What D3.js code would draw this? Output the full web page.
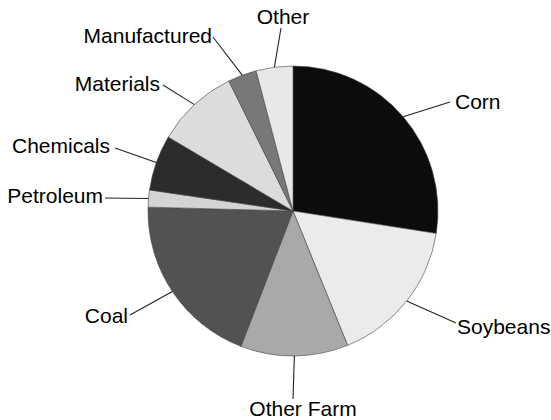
<!DOCTYPE html>
<html>
<head>
<meta charset="utf-8">
<script src="https://cdn.jsdelivr.net/npm/d3@7"></script>
<style>
  body { margin: 0; background: #fff; }
  text { font-family: "Liberation Sans", Arial, Helvetica, sans-serif; font-size: 21px; fill: #000; }
</style>
</head>
<body>
<svg id="chart" width="551" height="420"></svg>
<script>
// shares in percent, clockwise from 12 o'clock
const categories = ["Corn", "Soybeans", "Other Farm", "Coal", "Petroleum", "Chemicals", "Materials", "Manufactured", "Other"];
const shares = [27.5, 16.4, 12.0, 19.6, 1.9, 6.2, 9.2, 3.2, 4.1];
const fills = ["#0c0c0c", "#ebebeb", "#a9a9a9", "#525252", "#d4d4d4", "#2c2c2c", "#dcdcdc", "#787878", "#e8e8e8"];

// label placement: end of leader line and text anchor, relative to the pie centre
const labelPos = [
  { end: [157, -109], text: [162, -102], anchor: "start" },
  { end: [163, 112], text: [164, 123], anchor: "start" },
  { end: [0, 188], text: [10, 205], anchor: "middle" },
  { end: [-163, 104], text: [-165, 112], anchor: "end" },
  { end: [-188, -13], text: [-190, -8], anchor: "end" },
  { end: [-178, -63], text: [-183, -58], anchor: "end" },
  { end: [-130, -126], text: [-133, -120], anchor: "end" },
  { end: [-80, -174], text: [-81, -168], anchor: "end" },
  { end: [-12, -183], text: [-10, -187], anchor: "middle" }
];

const cx = 293, cy = 211, r = 145;

const svg = d3.select("#chart");
const g = svg.append("g").attr("transform", `translate(${cx},${cy})`);

const pie = d3.pie().sort(null).value(d => d)(shares);
const arc = d3.arc().innerRadius(0).outerRadius(r);
const edge = d3.arc().innerRadius(r).outerRadius(r);

g.selectAll("path")
  .data(pie)
  .enter()
  .append("path")
  .attr("d", arc)
  .attr("fill", (d, i) => fills[i])
  .attr("stroke", "#444")
  .attr("stroke-width", 0.6);

// leader lines
g.selectAll("line")
  .data(pie)
  .enter()
  .append("line")
  .attr("x1", d => edge.centroid(d)[0])
  .attr("y1", d => edge.centroid(d)[1])
  .attr("x2", (d, i) => labelPos[i].end[0])
  .attr("y2", (d, i) => labelPos[i].end[1])
  .attr("stroke", "#222")
  .attr("stroke-width", 1.1);

g.selectAll("text")
  .data(categories)
  .enter()
  .append("text")
  .attr("x", (d, i) => labelPos[i].text[0])
  .attr("y", (d, i) => labelPos[i].text[1])
  .attr("text-anchor", (d, i) => labelPos[i].anchor)
  .text(d => d);
</script>
</body>
</html>
